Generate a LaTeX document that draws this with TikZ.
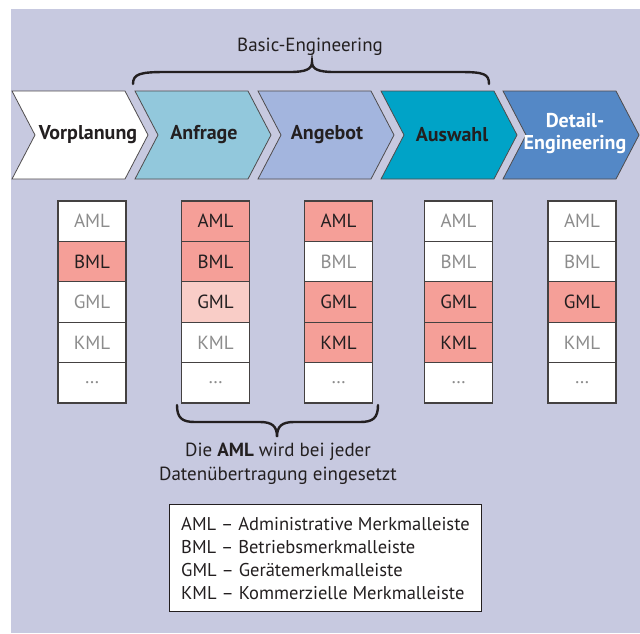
\documentclass[tikz,border=0pt]{standalone}
\usepackage{fontspec}
\setmainfont{PT Sans}
\definecolor{bgc}{HTML}{C7C9E0}
\definecolor{anfr}{HTML}{92C8DC}
\definecolor{ange}{HTML}{A3B5DE}
\definecolor{ausw}{HTML}{00A3C7}
\definecolor{detc}{HTML}{5488C6}
\definecolor{redc}{HTML}{F59F98}
\definecolor{pinkc}{HTML}{F9CDC7}
\definecolor{grayt}{HTML}{8C8C8C}
\definecolor{darkt}{HTML}{231F20}
\newcommand{\chevron}[2]{%
  \draw[chevstyle, fill=#2] (#1,91) -- ++(113,0) -- ++(23,44) -- ++(-23,44) -- ++(-113,0) -- ++(23,-44) -- cycle;}
\newcommand{\mlcell}[5]{\node[cell,#4] (#1) at (#2,{201+40.4*(#3-0.5)}) {#5};}
\begin{document}
\begin{tikzpicture}[x=1pt,y=-1pt,
  chevstyle/.style={draw=darkt!80, line width=0.8pt},
  chevtext/.style={font=\bfseries\fontsize{20}{22}\selectfont, text=darkt, inner sep=0pt, align=center},
  cell/.style={draw=darkt!85, line width=1.2pt, minimum width=68pt, minimum height=40.4pt, inner sep=0pt, font=\fontsize{19}{20}\selectfont},
  on/.style={fill=redc, text=darkt},
  half/.style={fill=pinkc, text=darkt},
  off/.style={fill=white, text=grayt},
  bracestyle/.style={draw=darkt, line width=2.4pt, line cap=round},
  plain/.style={font=\fontsize{19}{24}\selectfont, text=darkt, inner sep=0pt, align=center}]
\useasboundingbox (0,0) rectangle (640,633);
\fill[bgc] (11,9) rectangle (640,633);
% chevrons
\chevron{12}{white}
\chevron{135}{anfr}
\chevron{258}{ange}
\chevron{381}{ausw}
\chevron{503}{detc}
\node[chevtext] (vor) at (88,135) {Vorplanung};
\node[chevtext] (anf) at (204,135) {Anfrage};
\node[chevtext] (ang) at (327,135) {Angebot};
\node[chevtext] (aus) at (452,135) {Auswahl};
\node[chevtext, text=white] (det) at (575,134) {Detail-\\Engineering};
% top brace
\node[plain] (basic) at (310,47) {Basic-Engineering};
\coordinate (tbl) at (133,84);
\coordinate (tbm) at (312,62);
\coordinate (tbr) at (489,84);
\draw[bracestyle] (tbl) .. controls (133,74) and (140,72) .. (165,72) -- (290,72) .. controls (306,72) and (312,69) .. (tbm)
  .. controls (312,69) and (318,72) .. (334,72) -- (460,72) .. controls (484,72) and (489,74) .. (tbr);
% cells
\mlcell{a1}{92}{1}{off}{AML}
\mlcell{b1}{92}{2}{on}{BML}
\mlcell{g1}{92}{3}{off}{GML}
\mlcell{k1}{92}{4}{off}{KML}
\mlcell{d1}{92}{5}{off}{…}
\mlcell{a2}{215.5}{1}{on}{AML}
\mlcell{b2}{215.5}{2}{on}{BML}
\mlcell{g2}{215.5}{3}{half}{GML}
\mlcell{k2}{215.5}{4}{off}{KML}
\mlcell{d2}{215.5}{5}{off}{…}
\mlcell{a3}{338.5}{1}{on}{AML}
\mlcell{b3}{338.5}{2}{off}{BML}
\mlcell{g3}{338.5}{3}{on}{GML}
\mlcell{k3}{338.5}{4}{on}{KML}
\mlcell{d3}{338.5}{5}{off}{…}
\mlcell{a4}{458.5}{1}{off}{AML}
\mlcell{b4}{458.5}{2}{off}{BML}
\mlcell{g4}{458.5}{3}{on}{GML}
\mlcell{k4}{458.5}{4}{on}{KML}
\mlcell{d4}{458.5}{5}{off}{…}
\mlcell{a5}{582}{1}{off}{AML}
\mlcell{b5}{582}{2}{off}{BML}
\mlcell{g5}{582}{3}{on}{GML}
\mlcell{k5}{582}{4}{off}{KML}
\mlcell{d5}{582}{5}{off}{…}
% bottom brace
\coordinate (bbl) at (177,405);
\coordinate (bbm) at (277,437);
\coordinate (bbr) at (378,405);
\draw[bracestyle] (bbl) .. controls (177,418) and (182,422) .. (195,422) -- (260,422) .. controls (272,422) and (277,426) .. (bbm)
  .. controls (277,426) and (282,422) .. (294,422) -- (360,422) .. controls (373,422) and (378,418) .. (bbr);
\node[plain] (note) at (278,464) {Die \textbf{AML} wird bei jeder\\Datenübertragung eingesetzt};
% legend
\node[draw=darkt, line width=1pt, fill=white, minimum width=312pt, minimum height=107pt, inner sep=0pt] (legbox) at (325,557.5) {};
\node[font=\fontsize{18.5}{23}\selectfont, text=darkt, align=left, anchor=west, inner sep=0pt] (legtext) at (181,559)
  {AML – Administrative Merkmalleiste\\BML – Betriebsmerkmalleiste\\GML – Gerätemerkmalleiste\\KML – Kommerzielle Merkmalleiste};
\end{tikzpicture}
\end{document}
